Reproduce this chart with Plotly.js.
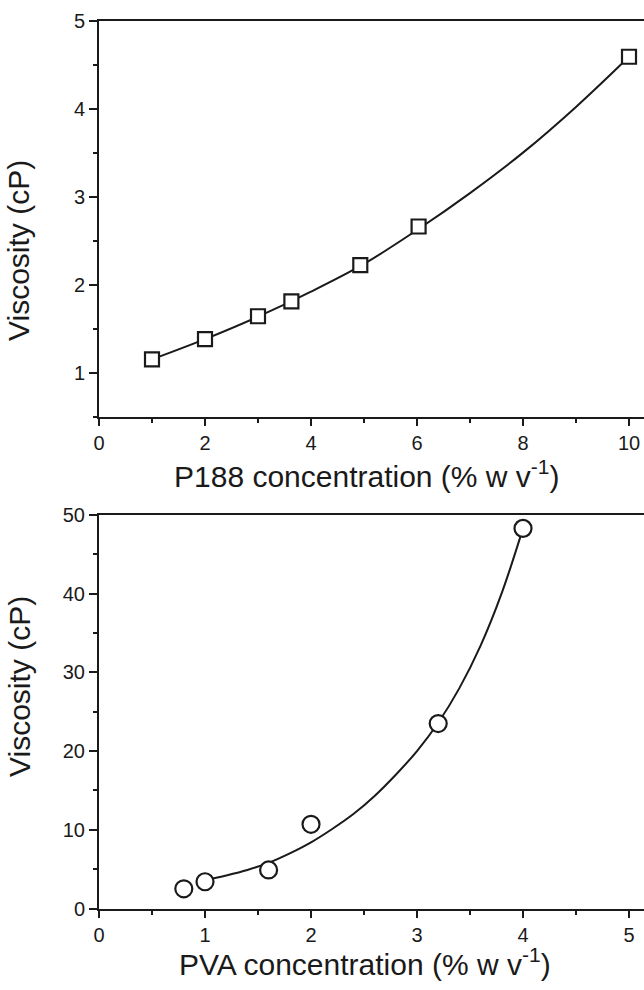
<!DOCTYPE html>
<html>
<head>
<meta charset="utf-8">
<script src="https://cdn.plot.ly/plotly-3.0.1.min.js"></script>
<style>
  html, body { margin: 0; padding: 0; overflow: hidden; background: #fff; }
  #chart { width: 700px; height: 990px; }
</style>
</head>
<body>
<div id="chart"></div>
<script>
// Top panel: P188
const p188Conc = [1, 2, 3, 3.63, 4.93, 6.03, 10];
const p188Visc = [1.15, 1.38, 1.64, 1.81, 2.22, 2.66, 4.59];
const p188FitConc = [1, 2, 3, 4, 5, 6, 7, 8, 9, 10];
const p188FitVisc = [1.15, 1.38, 1.635, 1.92, 2.235, 2.62, 3.04, 3.5, 4.02, 4.59];

// Bottom panel: PVA
const pvaConc = [0.8, 1, 1.6, 2, 3.2, 4];
const pvaVisc = [2.5, 3.4, 4.9, 10.7, 23.5, 48.3];
const pvaFitConc = [1, 1.2, 1.4, 1.6, 1.8, 2, 2.2, 2.4, 2.6, 2.8, 3, 3.2, 3.4, 3.6, 3.8, 4];
const pvaFitVisc = [3.6, 4.2, 4.9, 5.8, 7.0, 8.4, 10.1, 12.0, 14.3, 17.0, 20.0, 23.6, 28.0, 33.4, 40.1, 48.3];

const topXTicks = [0, 2, 4, 6, 8, 10];
const topYTicks = [1, 2, 3, 4, 5];
const botXTicks = [0, 1, 2, 3, 4, 5];
const botYTicks = [0, 10, 20, 30, 40, 50];

const ink = '#1a1a1a';
const FONT = 'Liberation Sans, Arial, Helvetica, sans-serif';

const traces = [
  { x: p188FitConc, y: p188FitVisc, xaxis: 'x', yaxis: 'y', mode: 'lines',
    line: { color: ink, width: 2, shape: 'spline' }, hoverinfo: 'skip' },
  { x: p188Conc, y: p188Visc, xaxis: 'x', yaxis: 'y', mode: 'markers',
    marker: { symbol: 'square', size: 14, color: '#fff', line: { color: ink, width: 2.2 } } },
  { x: pvaFitConc, y: pvaFitVisc, xaxis: 'x2', yaxis: 'y2', mode: 'lines',
    line: { color: ink, width: 2, shape: 'spline' }, hoverinfo: 'skip' },
  { x: pvaConc, y: pvaVisc, xaxis: 'x2', yaxis: 'y2', mode: 'markers',
    marker: { symbol: 'circle', size: 17, color: '#fff', line: { color: ink, width: 2.2 } } }
];

function axisBase(extra) {
  return Object.assign({
    showline: true, linecolor: ink, linewidth: 2,
    showgrid: false, zeroline: false,
    ticks: 'outside', ticklen: 8, tickwidth: 2, tickcolor: ink,
    tickfont: { family: FONT, size: 20, color: ink },
    automargin: false, fixedrange: true
  }, extra);
}

const W = 700, H = 990, L = 99, R = 30;
const plotW = W - L - R;

const layout = {
  width: W, height: H,
  margin: { l: L, r: R, t: 0, b: 0 },
  paper_bgcolor: '#fff', plot_bgcolor: '#fff',
  showlegend: false,
  font: { family: FONT, color: ink },
  xaxis: axisBase({ domain: [0, 1], anchor: 'y', range: [0, plotW / 53], mirror: true,
    ticklen: 7,
    tickvals: topXTicks, ticktext: topXTicks.map(String),
    minor: { dtick: 1, tick0: 0, ticklen: 4, tickwidth: 2, tickcolor: ink, ticks: 'outside' } }),
  yaxis: axisBase({ domain: [1 - 416.5 / H, 1 - 20.7 / H], anchor: 'x', range: [0.5, 5],
    tickvals: topYTicks, ticktext: topYTicks.map(String),
    minor: { dtick: 0.5, tick0: 0, ticklen: 4, tickwidth: 2, tickcolor: ink, ticks: 'outside' } }),
  xaxis2: axisBase({ domain: [0, 1], anchor: 'y2', range: [0, plotW / 106], mirror: true,
    ticklen: 7,
    tickvals: botXTicks, ticktext: botXTicks.map(String),
    minor: { dtick: 0.5, tick0: 0, ticklen: 4, tickwidth: 2, tickcolor: ink, ticks: 'outside' } }),
  yaxis2: axisBase({ domain: [1 - 908.5 / H, 1 - 515 / H], anchor: 'x2', range: [0, 50],
    tickvals: botYTicks, ticktext: botYTicks.map(String),
    minor: { dtick: 5, tick0: 0, ticklen: 4, tickwidth: 2, tickcolor: ink, ticks: 'outside' } }),
  annotations: [
    { text: 'P188 concentration (% w v<sup>-1</sup>)', xref: 'paper', yref: 'paper',
      x: (367 - L) / plotW, y: 1 - 474 / H, xanchor: 'center', yanchor: 'middle', showarrow: false,
      font: { family: FONT, size: 30, color: ink } },
    { text: 'PVA concentration (% w v<sup>-1</sup>)', xref: 'paper', yref: 'paper',
      x: (365 - L) / plotW, y: 1 - 962 / H, xanchor: 'center', yanchor: 'middle', showarrow: false,
      font: { family: FONT, size: 30, color: ink } },
    { text: 'Viscosity (cP)', xref: 'paper', yref: 'paper', textangle: -90,
      x: (19 - L) / plotW, y: 1 - 251 / H, xanchor: 'center', yanchor: 'middle', showarrow: false,
      font: { family: FONT, size: 30, color: ink } },
    { text: 'Viscosity (cP)', xref: 'paper', yref: 'paper', textangle: -90,
      x: (19 - L) / plotW, y: 1 - 687 / H, xanchor: 'center', yanchor: 'middle', showarrow: false,
      font: { family: FONT, size: 30, color: ink } }
  ]
};

Plotly.newPlot('chart', traces, layout, { displayModeBar: false, staticPlot: true });
</script>
</body>
</html>
